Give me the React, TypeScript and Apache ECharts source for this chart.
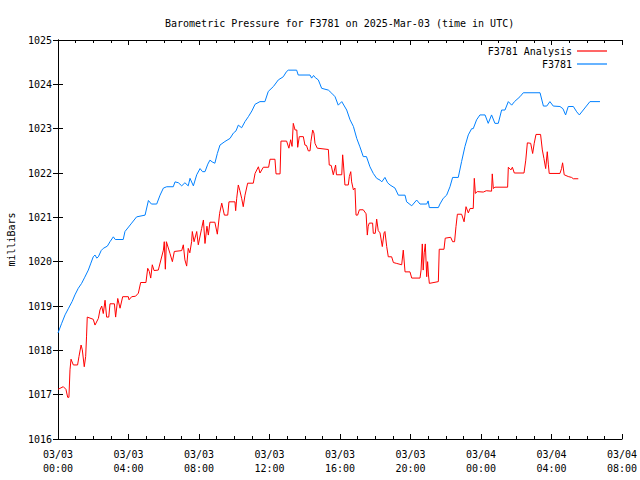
import React, { useEffect, useRef } from "react";
import * as echarts from "echarts";

// hours since 2025-03-03 00:00 UTC
const analysisHours = [
  0, 0.3, 0.45, 0.55, 0.62, 0.68, 0.74, 0.87, 1.11, 1.19, 1.31, 1.38, 1.49, 1.57, 1.62, 1.66, 2.0, 2.1, 2.29, 2.38,
  2.48, 2.57, 2.67, 2.76, 2.88, 2.95, 3.2, 3.27, 3.39, 3.52, 3.67, 3.99, 4.03, 4.18, 4.4, 4.56, 4.69, 4.99, 5.09, 5.18,
  5.26, 5.35, 5.45, 5.69, 5.98, 6.03, 6.09, 6.15, 6.35, 6.49, 6.6, 7.02, 7.11, 7.2, 7.3, 7.39, 7.48, 7.58, 7.62, 7.72,
  7.87, 7.96, 8.15, 8.25, 8.34, 8.45, 8.53, 8.62, 8.9, 9.04, 9.17, 9.29, 9.44, 9.63, 9.7, 10.04, 10.08, 10.14, 10.23, 10.32,
  10.42, 10.51, 10.61, 10.76, 11.08, 11.18, 11.37, 11.46, 11.65, 11.95, 12.03, 12.31, 12.37, 12.6, 12.65, 12.97, 13.1, 13.2, 13.28, 13.35,
  13.45, 13.55, 13.6, 13.69, 13.92, 14.01, 14.1, 14.2, 14.3, 14.35, 14.45, 14.52, 14.58, 14.71, 15.34, 15.39, 15.5, 15.62, 15.75, 15.8,
  16.1, 16.15, 16.2, 16.28, 16.47, 16.53, 16.61, 16.66, 16.76, 16.85, 16.91, 17.0, 17.1, 17.32, 17.48, 17.55, 17.6, 17.66, 17.85, 17.89,
  18.0, 18.08, 18.17, 18.27, 18.4, 18.5, 18.55, 18.65, 18.74, 18.93, 19.03, 19.22, 19.5, 19.59, 19.69, 19.97, 20.07, 20.54, 20.6, 20.67,
  20.72, 20.78, 20.84, 20.92, 20.97, 21.02, 21.07, 21.58, 21.63, 21.9, 21.97, 22.28, 22.39, 22.5, 22.58, 22.66, 22.9, 23.04, 23.15, 23.28,
  23.38, 23.56, 23.62, 23.68, 23.79, 24.13, 24.3, 24.6, 24.64, 24.7, 24.79, 25.51, 25.55, 25.7, 25.78, 25.89, 26.44, 26.54, 26.63, 26.82,
  26.93, 27.02, 27.12, 27.38, 27.48, 27.57, 27.67, 27.76, 27.82, 27.87, 28.48, 28.57, 28.63, 28.72, 28.95, 29.14, 29.24, 29.52,
];
const analysisValues = [
  1017.12, 1017.18, 1017.12, 1016.94, 1016.94, 1017.56, 1017.8, 1017.67, 1017.67, 1017.86, 1018.12, 1018.01, 1017.63, 1017.86, 1018.32, 1018.75, 1018.7, 1018.57, 1018.72, 1018.91,
  1019.0, 1018.83, 1019.13, 1018.75, 1018.75, 1019.05, 1019.05, 1018.75, 1019.17, 1018.95, 1019.21, 1019.21, 1019.14, 1019.21, 1019.22, 1019.29, 1019.53, 1019.53, 1019.85, 1019.78,
  1019.63, 1019.93, 1019.8, 1019.81, 1020.26, 1020.45, 1019.83, 1020.45, 1020.19, 1020.0, 1020.23, 1020.25, 1020.38, 1020.04, 1019.9, 1020.3, 1020.2, 1020.45, 1020.68, 1020.45,
  1020.68, 1020.38, 1020.75, 1020.94, 1020.41, 1020.8, 1020.6, 1020.89, 1020.89, 1020.62, 1021.09, 1021.32, 1021.05, 1021.05, 1021.35, 1021.35, 1021.15, 1021.43, 1021.73, 1021.6,
  1021.43, 1021.24, 1021.5, 1021.77, 1021.77, 1021.99, 1022.14, 1022.0, 1022.13, 1022.13, 1022.31, 1022.31, 1021.98, 1021.98, 1022.72, 1022.72, 1022.56, 1022.75, 1022.6, 1023.12,
  1022.97, 1022.97, 1022.58, 1022.82, 1022.82, 1022.63, 1022.62, 1022.5, 1022.5, 1022.71, 1022.97, 1022.9, 1022.67, 1022.56, 1022.53, 1022.18, 1022.17, 1021.96, 1022.18, 1021.96,
  1021.96, 1022.41, 1022.18, 1021.73, 1021.73, 1021.92, 1022.03, 1021.8, 1021.62, 1021.66, 1021.05, 1021.05, 1021.17, 1021.17, 1021.08, 1020.6, 1020.8, 1020.87, 1020.87, 1020.64,
  1020.64, 1020.96, 1020.7, 1020.65, 1020.34, 1020.65, 1020.68, 1020.34, 1020.11, 1020.11, 1019.98, 1019.96, 1019.93, 1020.26, 1019.77, 1019.77, 1019.63, 1019.63, 1019.81, 1020.4,
  1019.81, 1020.2, 1020.4, 1019.66, 1020.0, 1019.7, 1019.51, 1019.55, 1020.28, 1020.28, 1020.53, 1020.55, 1020.45, 1020.45, 1020.79, 1021.07, 1021.07, 1020.9, 1021.24, 1021.1,
  1021.2, 1021.2, 1021.88, 1021.54, 1021.58, 1021.57, 1021.6, 1021.59, 1021.98, 1021.65, 1021.68, 1021.68, 1022.13, 1022.07, 1022.13, 1022.0, 1022.0, 1022.29, 1022.68, 1022.67,
  1022.44, 1022.67, 1022.87, 1022.87, 1022.52, 1022.33, 1022.1, 1022.48, 1022.2, 1021.99, 1021.99, 1022.1, 1022.23, 1021.96, 1021.92, 1021.9, 1021.87, 1021.87,
];

const stationHours = [
  0, 0.2, 0.4, 0.6, 0.8, 0.96, 1.15, 1.34, 1.52, 1.72, 1.85, 2.0, 2.1, 2.2, 2.29, 2.45, 2.57, 2.8, 2.95, 3.14,
  3.25, 3.7, 3.8, 4.18, 4.46, 4.94, 5.13, 5.3, 5.6, 5.79, 5.98, 6.17, 6.54, 6.64, 6.83, 7.02, 7.2, 7.39, 7.49, 7.68,
  7.87, 8.06, 8.2, 8.34, 8.5, 8.62, 8.75, 8.9, 9.04, 9.19, 9.47, 9.76, 9.95, 10.1, 10.23, 10.42, 10.61, 10.8, 11.0, 11.18,
  11.46, 11.74, 11.93, 12.22, 12.5, 12.78, 12.97, 13.07, 13.54, 13.63, 14.3, 14.39, 14.5, 14.6, 14.77, 14.96, 15.34, 15.53, 15.72, 15.9,
  16.1, 16.38, 16.57, 16.76, 16.95, 17.13, 17.32, 17.5, 17.7, 17.89, 18.08, 18.27, 18.37, 18.55, 18.7, 18.84, 19.12, 19.31, 19.69, 19.78,
  20.07, 20.35, 20.54, 20.92, 21.0, 21.07, 21.58, 21.67, 21.86, 22.05, 22.24, 22.39, 22.71, 22.9, 23.09, 23.28, 23.47, 23.56, 23.75, 23.94,
  24.23, 24.41, 24.6, 24.79, 24.98, 25.17, 25.36, 25.55, 25.74, 25.9, 26.21, 26.4, 27.35, 27.54, 27.73, 27.91, 28.1, 28.48, 28.65, 28.8,
  28.95, 29.24, 29.43, 29.58, 30.18, 30.75,
];
const stationValues = [
  1018.39, 1018.6, 1018.8, 1018.95, 1019.1, 1019.25, 1019.4, 1019.51, 1019.65, 1019.81, 1019.95, 1020.11, 1020.15, 1020.08, 1020.11, 1020.25, 1020.3, 1020.35, 1020.45, 1020.56,
  1020.5, 1020.5, 1020.68, 1020.87, 1021.01, 1021.05, 1021.38, 1021.3, 1021.3, 1021.5, 1021.66, 1021.69, 1021.69, 1021.8, 1021.78, 1021.71, 1021.78, 1021.71, 1021.88, 1021.71,
  1021.96, 1022.1, 1022.03, 1022.03, 1022.2, 1022.29, 1022.25, 1022.22, 1022.44, 1022.63, 1022.71, 1022.78, 1022.9, 1022.95, 1023.08, 1023.02, 1023.16, 1023.27, 1023.4, 1023.55,
  1023.61, 1023.61, 1023.84, 1023.95, 1024.1, 1024.17, 1024.29, 1024.32, 1024.32, 1024.21, 1024.21, 1024.14, 1024.2, 1024.15, 1024.1, 1023.91, 1023.87, 1023.8, 1023.72, 1023.53,
  1023.61, 1023.42, 1023.2, 1023.05, 1022.78, 1022.59, 1022.37, 1022.37, 1022.14, 1021.99, 1021.88, 1021.84, 1021.8, 1021.9, 1021.78, 1021.73, 1021.66, 1021.5, 1021.5, 1021.35,
  1021.26, 1021.39, 1021.3, 1021.3, 1021.37, 1021.22, 1021.22, 1021.3, 1021.43, 1021.5, 1021.69, 1021.9, 1021.9, 1022.26, 1022.6, 1022.86, 1023.0, 1023.0, 1023.2, 1023.31,
  1023.31, 1023.12, 1023.31, 1023.12, 1023.12, 1023.42, 1023.42, 1023.61, 1023.53, 1023.61, 1023.72, 1023.81, 1023.81, 1023.51, 1023.51, 1023.61, 1023.51, 1023.5, 1023.45, 1023.31,
  1023.5, 1023.5, 1023.38, 1023.31, 1023.61, 1023.61,
];

const seriesNames = ["F3781 Analysis", "F3781"];
const seriesColors = ["#ff0000", "#0080ff"];
const dayLabels = ["03/03", "03/04"];

const FONT = "DejaVu Sans Mono";

function zip(xs: number[], ys: number[]) {
  return xs.map((x, i) => [x, ys[i]]);
}

function fmtTime(v: number) {
  const day = Math.floor(v / 24);
  const h = Math.round(v - day * 24);
  return dayLabels[Math.min(day, dayLabels.length - 1)] + "\n" + String(h).padStart(2, "0") + ":00";
}

export default function App() {
  const ref = useRef<HTMLDivElement>(null);
  useEffect(() => {
    if (!ref.current) return;
    const chart = echarts.init(ref.current, null, { renderer: "svg" });
    const textStyle = { fontFamily: FONT, fontSize: 10, color: "#000" };
    const axisLine = { show: true, lineStyle: { color: "#000", width: 1 } };
    const xCommon = {
      type: "value",
      min: 0,
      max: 32,
      interval: 4,
      axisLine,
      axisTick: { show: true, inside: true, length: 5, lineStyle: { color: "#000" } },
      minorTick: { show: true, splitNumber: 4, length: 3, lineStyle: { color: "#000" } },
      splitLine: { show: false },
    };
    const yCommon = {
      type: "value",
      min: 1016,
      max: 1025,
      interval: 1,
      axisLine,
      axisTick: { show: true, inside: true, length: 5, lineStyle: { color: "#000" } },
      splitLine: { show: false },
    };
    const legendCommon = {
      orient: "vertical",
      right: 28,
      align: "right",
      icon: "rect",
      itemWidth: 30,
      itemHeight: 1.2,
      textStyle,
    };
    chart.setOption({
      animation: false,
      backgroundColor: "#fff",
      title: {
        text: "Barometric Pressure for F3781 on 2025-Mar-03 (time in UTC)",
        left: 160,
        top: 13,
        textStyle: { ...textStyle, fontWeight: "normal" },
      },
      legend: [
        { ...legendCommon, data: [seriesNames[0]], top: 41 },
        { ...legendCommon, data: [seriesNames[1]], top: 54 },
      ],
      grid: { left: 58, right: 18, top: 40, bottom: 41, containLabel: false, outerBoundsMode: "none" },
      xAxis: [
        {
          ...xCommon,
          position: "bottom",
          axisLabel: { ...textStyle, margin: 8, lineHeight: 14, formatter: fmtTime },
        },
        { ...xCommon, position: "top", axisLabel: { show: false } },
      ],
      yAxis: [
        {
          ...yCommon,
          position: "left",
          name: "milliBars",
          nameLocation: "middle",
          nameGap: 42,
          nameTextStyle: textStyle,
          axisLabel: { ...textStyle, margin: 6, formatter: (v: number) => String(v) },
        },
        { ...yCommon, position: "right", axisLabel: { show: false } },
      ],
      series: [
        {
          name: seriesNames[0],
          type: "line",
          symbol: "none",
          data: zip(analysisHours, analysisValues),
          lineStyle: { color: seriesColors[0], width: 1 },
          itemStyle: { color: seriesColors[0] },
          z: 3,
        },
        {
          name: seriesNames[1],
          type: "line",
          symbol: "none",
          data: zip(stationHours, stationValues),
          lineStyle: { color: seriesColors[1], width: 1 },
          itemStyle: { color: seriesColors[1] },
          z: 2,
        },
      ],
    });
    return () => chart.dispose();
  }, []);
  return (
    <div
      ref={ref}
      style={{ position: "fixed", left: 0, top: 0, width: 640, height: 480, background: "#fff" }}
    />
  );
}
